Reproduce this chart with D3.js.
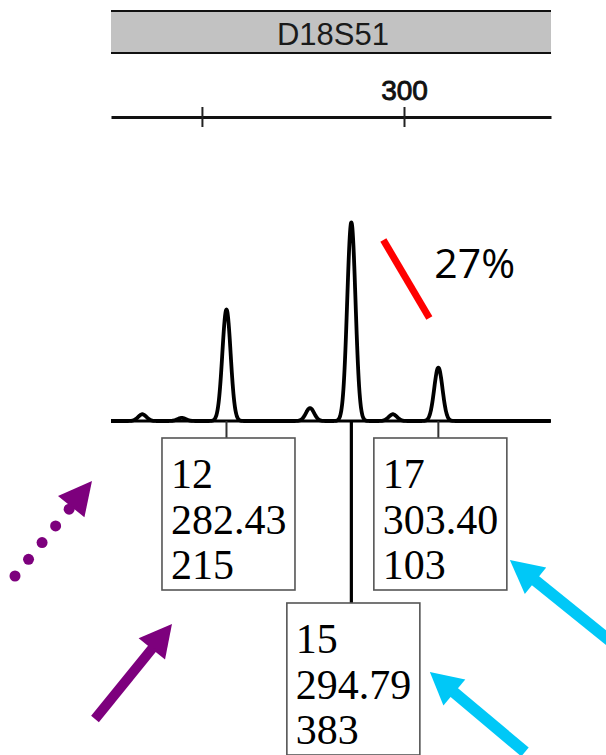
<!DOCTYPE html>
<html>
<head>
<meta charset="utf-8">
<script src="https://cdn.jsdelivr.net/npm/d3@7"></script>
<style>
  body { margin: 0; background: #fff; }
  svg { display: block; }
</style>
</head>
<body>
<svg id="chart" width="606" height="755"></svg>
<script>
// locus header + size axis
const locusName = "D18S51";
const tickValues = [280, 300];
const tickLabels = ["", "300"];

// peaks of the trace (size in bp, height in RFU)
const peakSizes = [274.1, 278.0, 282.43, 290.7, 294.79, 298.9, 303.40];
const peakHeights = [13, 6, 215, 25, 383, 13, 103];

// called alleles
const alleleNames = ["12", "15", "17"];
const alleleSizes = [282.43, 294.79, 303.40];
const alleleHeights = [215, 383, 103];

const ratioLabel = "27%";

const svg = d3.select("#chart");

const x = d3.scaleLinear().domain([271, 314.55]).range([111, 551]);
const y = d3.scaleLinear().domain([0, 383]).range([421, 222]);

// header bar
const header = svg.append("g");
header.append("rect")
    .attr("x", x.range()[0]).attr("y", 11)
    .attr("width", x.range()[1] - x.range()[0]).attr("height", 42)
    .attr("fill", "#c2c2c2");
[11, 53].forEach(yy => {
    header.append("line")
        .attr("x1", x.range()[0]).attr("x2", x.range()[1])
        .attr("y1", yy).attr("y2", yy)
        .attr("stroke", "#111").attr("stroke-width", 2.2);
});
header.append("text")
    .attr("x", (x.range()[0] + x.range()[1]) / 2 + 2)
    .attr("y", 45)
    .attr("text-anchor", "middle")
    .attr("font-family", "Liberation Sans, Arial, sans-serif")
    .attr("font-size", 31)
    .attr("fill", "#1a1a1a")
    .text(locusName);

// size axis
const axisG = svg.append("g")
    .attr("transform", "translate(0,117)")
    .call(d3.axisTop(x)
        .tickValues(tickValues)
        .tickFormat((d, i) => tickLabels[i])
        .tickSize(10)
        .tickSizeOuter(0)
        .tickPadding(7));
axisG.select(".domain").attr("stroke", "#111").attr("stroke-width", 3);
axisG.selectAll(".tick line").attr("y1", 10).attr("stroke", "#222").attr("stroke-width", 2);
axisG.selectAll(".tick text")
    .attr("font-family", "Liberation Sans, Arial, sans-serif")
    .attr("font-size", 28)
    .attr("fill", "#111")
    .attr("stroke", "#111").attr("stroke-width", 0.9);

// trace
const sigma = 0.41;
const samples = d3.range(x.domain()[0], x.domain()[1], 0.04);
const trace = samples.map(s => {
    let h = 0;
    peakSizes.forEach((p, i) => {
        h += peakHeights[i] * Math.exp(-((s - p) ** 2) / (2 * sigma * sigma));
    });
    return [s, h];
});

// baseline
svg.append("line")
    .attr("x1", x.range()[0]).attr("x2", x.range()[1])
    .attr("y1", y(0)).attr("y2", y(0))
    .attr("stroke", "#000").attr("stroke-width", 3.2);

svg.append("path")
    .datum(trace)
    .attr("fill", "none")
    .attr("stroke", "#000")
    .attr("stroke-width", 3.8)
    .attr("stroke-linejoin", "round")
    .attr("d", d3.line().x(d => x(d[0])).y(d => y(d[1])).curve(d3.curveBasis));

// allele boxes
const boxW = 133, boxH = 152;
const rowTop = [438, 603];
const boxes = alleleNames.map((name, i) => {
    const cx = x(alleleSizes[i]) + 2;
    const row = i % 2;
    return { name, size: alleleSizes[i], height: alleleHeights[i], cx, row,
             left: cx - boxW / 2, top: rowTop[row] };
});

const boxG = svg.append("g");
boxes.forEach(b => {
    boxG.append("line")
        .attr("x1", x(b.size)).attr("x2", x(b.size))
        .attr("y1", y(0)).attr("y2", b.top)
        .attr("stroke", b.row ? "#000" : "#333")
        .attr("stroke-width", b.row ? 3.2 : 2);
    boxG.append("rect")
        .attr("x", b.left).attr("y", b.top)
        .attr("width", boxW).attr("height", boxH)
        .attr("fill", "#fff")
        .attr("stroke", "#555").attr("stroke-width", 1.6);
    const lines = [b.name, b.size.toFixed(2), String(b.height)];
    lines.forEach((t, j) => {
        boxG.append("text")
            .attr("x", b.left + 9)
            .attr("y", b.top + 50 + j * 45.5)
            .attr("font-family", "Liberation Serif, Times New Roman, serif")
            .attr("font-size", 42)
            .attr("fill", "#000")
            .text(t);
    });
});

// arrows
function arrow(g, tail, tip, color, shaftW, headLen, headHalf, dotted) {
    const dx = tip[0] - tail[0], dy = tip[1] - tail[1];
    const len = Math.hypot(dx, dy);
    const ux = dx / len, uy = dy / len;
    const base = [tip[0] - ux * headLen, tip[1] - uy * headLen];
    const px = -uy, py = ux;
    g.append("path")
        .attr("d", `M${tip[0]},${tip[1]}L${base[0] + px * headHalf},${base[1] + py * headHalf}` +
                   `L${base[0] - px * headHalf},${base[1] - py * headHalf}Z`)
        .attr("fill", color);
    if (dotted) {
        const n = 5, step = 21.5;
        for (let k = 0; k < n; k++) {
            g.append("circle")
                .attr("cx", tail[0] + ux * step * k)
                .attr("cy", tail[1] + uy * step * k)
                .attr("r", 5.5)
                .attr("fill", color);
        }
    } else {
        g.append("line")
            .attr("x1", tail[0]).attr("y1", tail[1])
            .attr("x2", base[0] + ux * 2).attr("y2", base[1] + uy * 2)
            .attr("stroke", color).attr("stroke-width", shaftW);
    }
}

const b12 = boxes[0], b15 = boxes[1], b17 = boxes[2];
const annG = svg.append("g");
const purple = "#7d007d", cyan = "#00c8f7";
arrow(annG, [15, 576], [b12.left - 70, b12.top + 43], purple, 0, 33, 17, true);
arrow(annG, [95, 719], [b12.left + 10, b12.top + boxH + 34], purple, 10, 32, 17, false);
arrow(annG, [640, 665], [b17.left + boxW + 3, b17.top + boxH - 30], cyan, 11.5, 33, 17, false);
arrow(annG, [525, 752], [b15.left + boxW + 10, b15.top + 69], cyan, 11.5, 32, 17, false);

// stutter ratio mark
const p15x = x(alleleSizes[1]), p15y = y(alleleHeights[1]);
annG.append("line")
    .attr("x1", p15x + 32).attr("y1", p15y + 18)
    .attr("x2", p15x + 78).attr("y2", p15y + 96)
    .attr("stroke", "#ff0000").attr("stroke-width", 7);
annG.append("text")
    .attr("x", p15x + 83)
    .attr("y", p15y + 56)
    .attr("font-family", "Open Sans, sans-serif")
    .attr("font-size", 41)
    .attr("fill", "#000")
    .text(ratioLabel);
</script>
</body>
</html>
